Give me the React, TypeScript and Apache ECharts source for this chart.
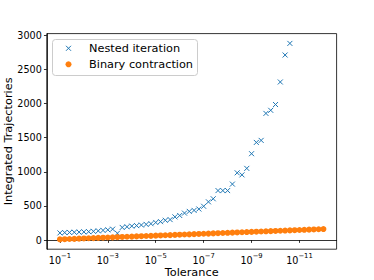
import React, { useEffect, useRef } from "react";
import * as echarts from "echarts";

// log10 of tolerance for each run
const tolExponents = [
  -1, -1.2, -1.4, -1.6, -1.8, -2, -2.2, -2.4, -2.6, -2.8,
  -3, -3.2, -3.4, -3.6, -3.8, -4, -4.2, -4.4, -4.6, -4.8,
  -5, -5.2, -5.4, -5.6, -5.8, -6, -6.2, -6.4, -6.6, -6.8,
  -7, -7.2, -7.4, -7.6, -7.8, -8, -8.2, -8.4, -8.6, -8.8,
  -9, -9.2, -9.4, -9.6, -9.8, -10, -10.2, -10.4, -10.6, -10.8,
  -11, -11.2, -11.4, -11.6, -11.8, -12,
];

const nestedIteration = [
  105, 110, 112, 115, 117, 120, 123, 128, 135, 142,
  150, 160, 100, 185, 195, 205, 212, 220, 230, 240,
  258, 270, 290, 300, 340, 360, 395, 420, 435, 455,
  495, 560, 605, 725, 725, 725, 820, 985, 955, 1050,
  1265, 1430, 1460, 1855, 1900, 1985, 2315, 2710, 2880,
];

const binaryContraction = [
  10, 13, 16, 18, 21, 24, 27, 29, 32, 35,
  38, 40, 43, 46, 49, 51, 54, 57, 60, 62,
  65, 68, 71, 73, 76, 79, 82, 84, 87, 90,
  93, 95, 98, 101, 104, 106, 109, 112, 115, 117,
  120, 123, 126, 128, 131, 134, 137, 139, 142, 145,
  148, 150, 153, 156, 159, 161,
];

const seriesNames = ["Nested iteration", "Binary contraction"];
const xTickExponents = [-1, -3, -5, -7, -9, -11];
const yTicks = [0, 500, 1000, 1500, 2000, 2500, 3000];

const FONT = "DejaVu Sans";
const CROSS = "path://M0,0L10,10M10,0L0,10";
const BLUE = "#1f77b4";
const ORANGE = "#ff7f0e";
const TICK_FONT = 9.6;

export default function App() {
  const ref = useRef<HTMLDivElement>(null);

  useEffect(() => {
    if (!ref.current) return;
    const chart = echarts.init(ref.current, undefined, { renderer: "svg" });
    const xTicks = xTickExponents.map((e) => Math.pow(10, e));
    const nestedData = nestedIteration.map((v, i) => [Math.pow(10, tolExponents[i]), v]);
    const binaryData = binaryContraction.map((v, i) => [Math.pow(10, tolExponents[i]), v]);

    // legend drawn as graphic elements (matplotlib-style box)
    const lgX = 52.5, lgY = 39.5, row1 = 48.3, row2 = 64.3, iconX = 68.5, textX = 89;
    const legendGraphic = {
      type: "group",
      z: 100,
      children: [
        {
          type: "rect",
          shape: { x: lgX, y: lgY, width: 145, height: 36, r: 3 },
          style: { fill: "rgba(255,255,255,0.8)", stroke: "#cccccc", lineWidth: 1 },
          z: 100,
        },
        {
          type: "line",
          shape: { x1: iconX - 2.5, y1: row1 - 2.5, x2: iconX + 2.5, y2: row1 + 2.5 },
          style: { stroke: BLUE, lineWidth: 1 },
          z: 101,
        },
        {
          type: "line",
          shape: { x1: iconX + 2.5, y1: row1 - 2.5, x2: iconX - 2.5, y2: row1 + 2.5 },
          style: { stroke: BLUE, lineWidth: 1 },
          z: 101,
        },
        {
          type: "circle",
          shape: { cx: iconX, cy: row2, r: 3 },
          style: { fill: ORANGE },
          z: 101,
        },
        {
          type: "text",
          x: textX,
          y: row1,
          style: {
            text: seriesNames[0],
            fontFamily: FONT,
            fontSize: 11.3,
            fill: "#000",
            verticalAlign: "middle",
            align: "left",
          },
          z: 101,
        },
        {
          type: "text",
          x: textX,
          y: row2,
          style: {
            text: seriesNames[1],
            fontFamily: FONT,
            fontSize: 11.3,
            fill: "#000",
            verticalAlign: "middle",
            align: "left",
          },
          z: 101,
        },
      ],
    };

    chart.setOption({
      animation: false,
      backgroundColor: "#ffffff",
      textStyle: { fontFamily: FONT },
      grid: {
        left: 46.75,
        top: 33.6,
        width: 289.85,
        height: 215.6,
        show: true,
        borderColor: "#000",
        borderWidth: 0.8,
        backgroundColor: "transparent",
        containLabel: false,
        outerBoundsMode: "none",
      },
      graphic: [legendGraphic],
      xAxis: {
        type: "log",
        logBase: 10,
        inverse: true,
        min: Math.pow(10, -12.55),
        max: Math.pow(10, -0.45),
        name: "Tolerance",
        nameLocation: "middle",
        nameGap: 18,
        nameMoveOverlap: false,
        nameTextStyle: { fontFamily: FONT, fontSize: 11.3, color: "#000", verticalAlign: "top" },
        axisLine: { show: true, lineStyle: { color: "#000", width: 0.8 } },
        axisTick: {
          show: true,
          length: 2.8,
          customValues: xTicks,
          lineStyle: { color: "#000", width: 0.8 },
        },
        minorTick: { show: false },
        splitLine: { show: false },
        axisLabel: {
          customValues: xTicks,
          margin: 3,
          color: "#000",
          formatter: (v: number) => {
            const e = Math.round(Math.log10(v));
            return "{b|10}{s|\u2212" + Math.abs(e) + "}";
          },
          rich: {
            b: { fontFamily: FONT, fontSize: TICK_FONT, color: "#000", lineHeight: 13, verticalAlign: "bottom" },
            s: { fontFamily: FONT, fontSize: 6.8, color: "#000", lineHeight: 13, verticalAlign: "top" },
          },
        },
      },
      yAxis: {
        type: "value",
        min: -133.5,
        max: 3023.5,
        name: "Integrated Trajectories",
        nameLocation: "middle",
        nameRotate: 90,
        nameGap: 33,
        nameMoveOverlap: false,
        nameTextStyle: { fontFamily: FONT, fontSize: 11.3, color: "#000" },
        axisLine: { show: true, lineStyle: { color: "#000", width: 0.8 } },
        axisTick: {
          show: true,
          length: 2.8,
          customValues: yTicks,
          lineStyle: { color: "#000", width: 0.8 },
        },
        splitLine: { show: false },
        axisLabel: {
          customValues: yTicks,
          margin: 5,
          fontFamily: FONT,
          fontSize: TICK_FONT,
          color: "#000",
          formatter: (v: number) => String(Math.round(v)),
        },
      },
      series: [
        {
          name: seriesNames[0],
          type: "scatter",
          data: nestedData,
          symbol: CROSS,
          symbolSize: 5,
          silent: true,
          itemStyle: { color: BLUE, borderColor: BLUE, borderWidth: 1, opacity: 1 },
          z: 3,
        },
        {
          name: seriesNames[1],
          type: "scatter",
          data: binaryData,
          symbol: "circle",
          symbolSize: 6,
          silent: true,
          itemStyle: { color: ORANGE, opacity: 1 },
          z: 4,
        },
      ],
    });
    return () => chart.dispose();
  }, []);

  return (
    <div
      ref={ref}
      style={{ position: "fixed", left: 0, top: 0, width: 374, height: 280 }}
    />
  );
}
